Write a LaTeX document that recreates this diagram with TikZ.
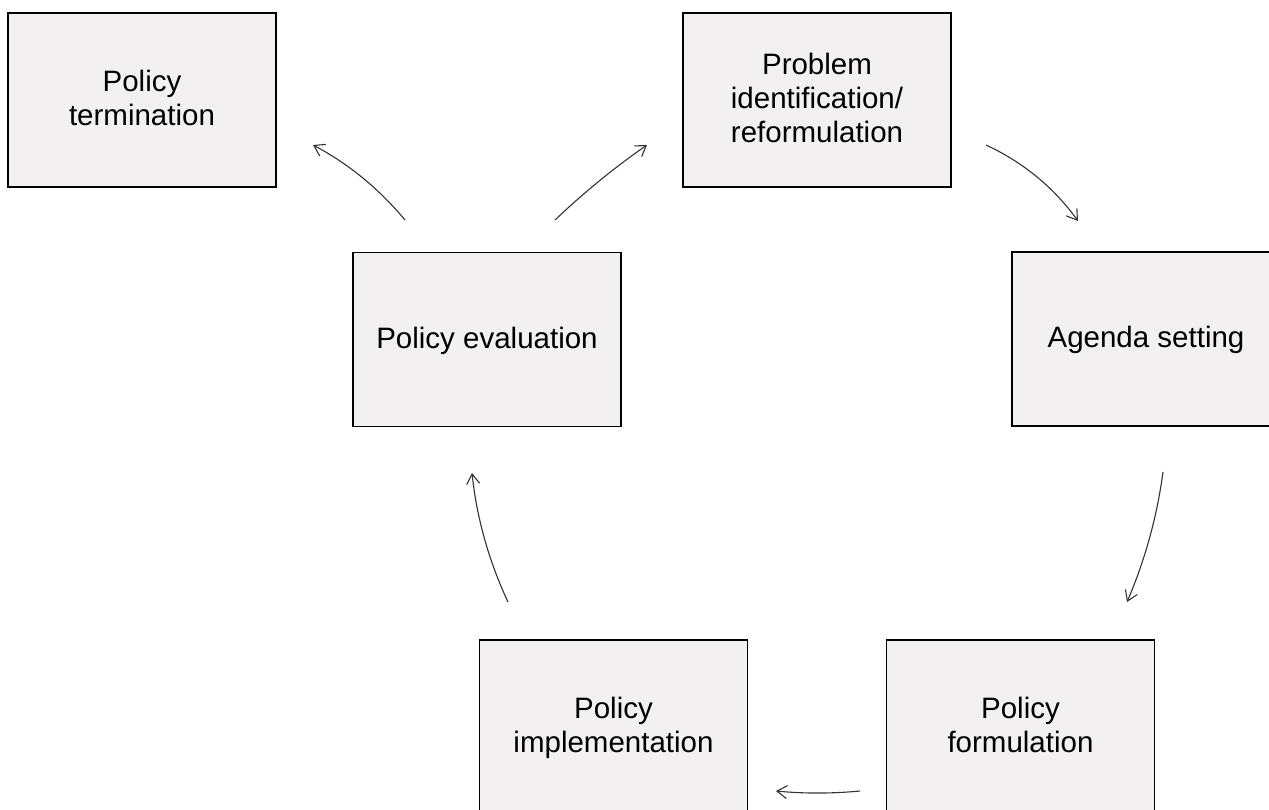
\documentclass[tikz,border=0pt]{standalone}
\usepackage{fontspec}
\setmainfont{Liberation Sans}
\usetikzlibrary{arrows.meta}
\definecolor{boxfill}{HTML}{F2F0F1}
\definecolor{arrowcol}{HTML}{333333}
\begin{document}
\begin{tikzpicture}[x=1pt,y=-1pt,
  stagebox/.style={draw=black,line width=1.5pt,fill=boxfill,minimum width=268pt,minimum height=174pt,
    inner sep=0pt,align=center,text depth=4pt,font=\fontsize{29.5}{34}\selectfont},
  flow/.style={draw=arrowcol,line width=1.1pt,-{Straight Barb[length=10pt,width=13pt,line width=1.1pt]}}]
\useasboundingbox (0,0) rectangle (1269,810);
\clip (0,0) rectangle (1269,810);
\fill[white] (0,0) rectangle (1269,810);
\node[stagebox] (term) at (142,100) {Policy\\termination};
\node[stagebox] (prob) at (817,100) {Problem\\identification/\\reformulation};
\node[stagebox] (agenda) at (1146,339) {Agenda setting};
\node[stagebox] (eval) at (487,339.5) {Policy evaluation};
\node[stagebox] (impl) at (613.5,727) {Policy\\implementation};
\node[stagebox] (form) at (1020.5,727) {Policy\\formulation};
% connector end points
\coordinate (evalL) at (405,220);
\coordinate (termE) at (313,145);
\coordinate (evalR) at (555,220);
\coordinate (probE) at (647,145);
\coordinate (probS) at (986,145);
\coordinate (agendaE) at (1078,221);
\coordinate (agendaS) at (1163,472);
\coordinate (formE) at (1127,602);
\coordinate (formS) at (860,791);
\coordinate (implE) at (776,791);
\coordinate (implS) at (508,602);
\coordinate (evalE) at (472,473);
\draw[flow] (evalL) .. controls (379,188.7) and (348.3,163.7) .. (termE);
\draw[flow] (evalR) .. controls (583.7,192.7) and (614.3,167.7) .. (probE);
\draw[flow] (probS) .. controls (1023.3,162.3) and (1054,187.7) .. (agendaE);
\draw[flow] (agendaS) .. controls (1157,516.7) and (1145,560) .. (formE);
\draw[flow] (formS) .. controls (832,793.7) and (804,793.7) .. (implE);
\draw[flow] (implS) .. controls (488.7,560.7) and (476.7,517.7) .. (evalE);
\end{tikzpicture}
\end{document}
